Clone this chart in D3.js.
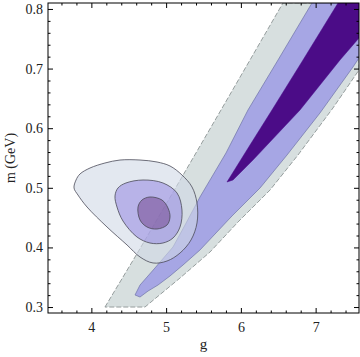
<!DOCTYPE html>
<html>
<head>
<meta charset="utf-8">
<script src="https://cdn.jsdelivr.net/npm/d3@7"></script>
<style>
body { margin: 0; background: #fff; }
text { font-family: "Liberation Serif", "DejaVu Serif", serif; fill: #222; }
</style>
</head>
<body>
<div id="chart"></div>
<script>
// contour outlines, in data units [g, m]
let bandOuter = [[4.182,0.300],[4.624,0.3923],[5.212,0.5181],[5.734,0.6305],[6.122,0.7144],[6.563,0.810],
  [7.58,0.810],[7.58,0.6976],[7.232,0.6339],[6.764,0.555],[6.390,0.4963],[5.962,0.4427],[5.587,0.3923],[5.186,0.3487],[4.717,0.300]];
let bandMid = [[6.951,0.810],[6.497,0.7144],[6.095,0.6305],[5.801,0.5584],[5.453,0.4846],[5.253,0.4376],[5.092,0.4007],
  [4.851,0.3655],[4.651,0.3369],[4.584,0.3202],[4.651,0.3168],[4.758,0.3268],[4.891,0.3369],[5.052,0.3521],[5.226,0.3705],
  [5.453,0.3957],[5.881,0.4527],[6.256,0.4997],[6.617,0.555],[7.058,0.6255],[7.50,0.7027],[7.58,0.7178],[7.58,0.810]];
let bandInner = [[7.299,0.810],[6.831,0.7144],[6.416,0.6305],[6.122,0.5718],[5.814,0.5097],[5.895,0.5131],[6.162,0.5466],
  [6.791,0.6305],[7.326,0.7144],[7.58,0.7513],[7.58,0.810]];
let blobOuter = [[3.768,0.4997],[3.795,0.5131],[3.848,0.5232],[3.982,0.5332],[4.182,0.5416],[4.383,0.5466],[4.651,0.5466],
  [4.878,0.5433],[5.052,0.5366],[5.212,0.5215],[5.346,0.5014],[5.413,0.4745],[5.413,0.4410],[5.333,0.4125],[5.186,0.3906],
  [5.012,0.3772],[4.825,0.3739],[4.651,0.3839],[4.477,0.4041],[4.209,0.4343],[3.942,0.4678],[3.821,0.4879]];
let blobMid = [[4.316,0.4863],[4.356,0.4997],[4.463,0.5081],[4.691,0.5131],[4.958,0.5081],[5.146,0.4913],[5.212,0.4628],
  [5.186,0.4343],[5.092,0.4158],[4.958,0.4074],[4.784,0.4074],[4.610,0.4175],[4.423,0.4443],[4.343,0.4678]];
let blobInner = [[4.624,0.4678],[4.677,0.4795],[4.784,0.4846],[4.945,0.4795],[5.025,0.4661],[5.052,0.4510],[5.012,0.4376],
  [4.878,0.4309],[4.744,0.4343],[4.651,0.4460]];

let xTicks = [4, 5, 6, 7];
let yTicks = [0.3, 0.4, 0.5, 0.6, 0.7, 0.8];
let xDomain = [3.42, 7.58];
let yDomain = [0.29, 0.81];

let width = 360, height = 357;
let mLeft = 48, mRight = 359, mTop = 3, mBottom = 313;

let svg = d3.select("#chart").append("svg").attr("width", width).attr("height", height);

let x = d3.scaleLinear().domain(xDomain).range([mLeft, mRight]);
let y = d3.scaleLinear().domain(yDomain).range([mBottom, mTop]);

svg.append("clipPath").attr("id", "plotclip").append("rect")
  .attr("x", mLeft).attr("y", mTop).attr("width", mRight - mLeft).attr("height", mBottom - mTop);

let plot = svg.append("g").attr("clip-path", "url(#plotclip)");

let poly = d3.line().x(d => x(d[0])).y(d => y(d[1])).curve(d3.curveLinearClosed);
let smooth = d3.line().x(d => x(d[0])).y(d => y(d[1])).curve(d3.curveCatmullRomClosed.alpha(0.5));

// band (opaque levels)
plot.append("path").attr("d", poly(bandOuter)).attr("fill", "#d7dfdf")
  .attr("stroke", "#8c9494").attr("stroke-width", 0.9).attr("stroke-dasharray", "5,2");
plot.append("path").attr("d", poly(bandMid)).attr("fill", "#a6a6e4")
  .attr("stroke", "#6e72a8").attr("stroke-width", 0.7);
plot.append("path").attr("d", poly(bandInner)).attr("fill", "#4b0c87")
  .attr("stroke", "#4b0c87").attr("stroke-width", 0.5);

// blob (translucent levels on top)
let blobs = [[blobOuter, "#d0d9e6"], [blobMid, "#9b90e3"], [blobInner, "#7a5198"]];
blobs.forEach(b => {
  plot.append("path").attr("d", smooth(b[0])).attr("fill", b[1]).attr("fill-opacity", 0.6)
    .attr("stroke", "#4a4a58").attr("stroke-width", 0.8);
});

// frame ticks
let minorX = d3.range(3.6, 7.5, 0.2).filter(v => Math.abs(v - Math.round(v)) > 0.01);
let minorY = d3.range(0.30, 0.811, 0.02).filter(v => Math.abs(v * 10 - Math.round(v * 10)) > 0.01);

function axisGroup(gen, tx, ty) {
  let g = svg.append("g").attr("transform", "translate(" + tx + "," + ty + ")").call(gen);
  g.select(".domain").remove();
  g.selectAll("line").attr("stroke", "#000");
  return g;
}

let xb = axisGroup(d3.axisBottom(x).tickValues(xTicks).tickSize(-5).tickPadding(9).tickFormat(d3.format("d")), 0, mBottom);
xb.selectAll("text").attr("font-size", 14).attr("font-family", "Liberation Serif");
axisGroup(d3.axisBottom(x).tickValues(minorX).tickSize(-2.5).tickFormat(""), 0, mBottom);
axisGroup(d3.axisTop(x).tickValues(xTicks).tickSize(-5).tickFormat(""), 0, mTop);
axisGroup(d3.axisTop(x).tickValues(minorX).tickSize(-2.5).tickFormat(""), 0, mTop);

let yl = axisGroup(d3.axisLeft(y).tickValues(yTicks).tickSize(-5).tickPadding(5).tickFormat(d3.format(".1f")), mLeft, 0);
yl.selectAll("text").attr("font-size", 14).attr("font-family", "Liberation Serif");
axisGroup(d3.axisLeft(y).tickValues(minorY).tickSize(-2.5).tickFormat(""), mLeft, 0);
axisGroup(d3.axisRight(y).tickValues(yTicks).tickSize(-5).tickFormat(""), mRight, 0);
axisGroup(d3.axisRight(y).tickValues(minorY).tickSize(-2.5).tickFormat(""), mRight, 0);

svg.append("rect").attr("x", mLeft).attr("y", mTop).attr("width", mRight - mLeft).attr("height", mBottom - mTop)
  .attr("fill", "none").attr("stroke", "#000").attr("stroke-width", 1);

// axis titles
svg.append("text").attr("x", (mLeft + mRight) / 2).attr("y", 349).attr("text-anchor", "middle")
  .attr("font-size", 15).text("g");
svg.append("text").attr("transform", "translate(15," + (mTop + mBottom) / 2 + ") rotate(-90)")
  .attr("text-anchor", "middle").attr("font-size", 14).text("m (GeV)");
</script>
</body>
</html>
